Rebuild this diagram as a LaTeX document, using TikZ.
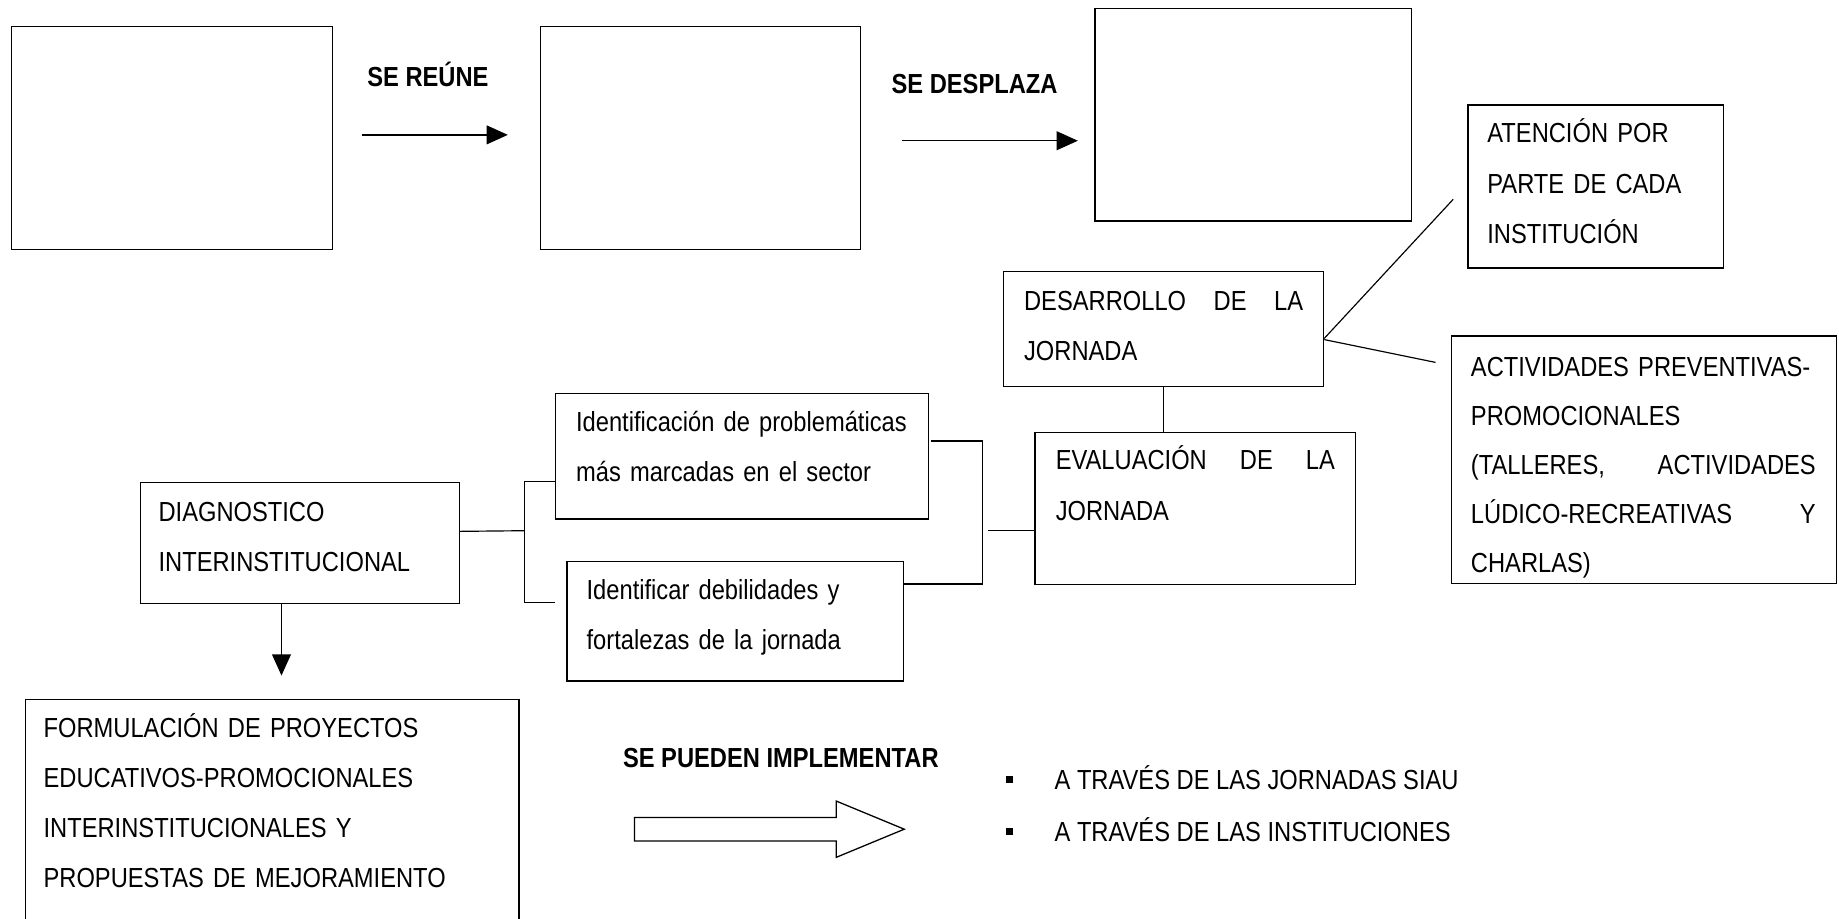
\documentclass[tikz,border=0pt]{standalone}
\usepackage{fontspec}
\setmainfont[FakeStretch=0.86]{Liberation Sans}
\usetikzlibrary{arrows.meta}
\newcommand{\fs}{\fontsize{23.5}{43}\selectfont}
\newcommand{\fr}{\rule{0pt}{30pt}}
\begin{document}
\begin{tikzpicture}[x=1pt,y=-1pt,
  box/.style={draw, line width=1.1pt, inner sep=0pt, anchor=north west},
  txt/.style={anchor=north west, inner sep=0pt, align=left, font=\fs},
  lbl/.style={anchor=base west, inner sep=0pt, font=\fs\bfseries},
  btxt/.style={anchor=base west, inner sep=0pt, font=\fs},
  conn/.style={line width=1pt},
  arr/.style={line width=1.1pt, -{Triangle[length=18pt,width=16pt]}}]
\clip (0,0) rectangle (1568,783);
\fill[white] (0,0) rectangle (1568,783);

% top row boxes
\node[box, minimum width=274pt, minimum height=190pt] (b1) at (9,22) {};
\node[box, minimum width=273pt, minimum height=190pt] (b2) at (460,22) {};
\node[box, minimum width=270pt, minimum height=181pt] (b3) at (933,7) {};

\node[lbl] (l1) at (313,74) {SE REÚNE};
\node[lbl] (l2) at (760,80) {SE DESPLAZA};
\coordinate (a1s) at (309,115);
\coordinate (a1e) at (433,115);
\coordinate (a2s) at (769,120);
\coordinate (a2e) at (919,120);
\draw[arr] (a1s) -- (a1e);
\draw[arr] (a2s) -- (a2e);

% right side
\node[box, minimum width=218pt, minimum height=139pt] (aten) at (1251,89) {};
\node[txt, text width=195pt] (taten) at (1268,91.5) {\fr ATENCIÓN POR\\PARTE DE CADA\\INSTITUCIÓN};

\node[box, minimum width=273pt, minimum height=98pt] (desa) at (855,231) {};
\node[txt, text width=238pt] (tdesa) at (873,234.5) {\fr DESARROLLO\hfill DE\hfill LA\\JORNADA};

\node[box, minimum width=328pt, minimum height=211pt] (acti) at (1237,286) {};
\node[txt, text width=294pt, font=\fontsize{23.5}{41.8}\selectfont] (tacti) at (1254,291) {\fr\mbox{ACTIVIDADES PREVENTIVAS-}\\PROMOCIONALES\\(TALLERES,\hfill ACTIVIDADES\\LÚDICO-RECREATIVAS\hfill Y\\CHARLAS)};

\node[box, minimum width=273pt, minimum height=130pt] (eval) at (882,368) {};
\node[txt, text width=238pt] (teval) at (900,370.5) {\fr EVALUACIÓN\hfill DE\hfill LA\\JORNADA};

\coordinate (atenend) at (1239,170);
\coordinate (actend) at (1224,309);
\draw[conn] ([yshift=-8pt]desa.east) -- (atenend);
\draw[conn] ([yshift=-9pt]desa.east) -- (actend);
\draw[conn] (desa.south) -- (desa.south |- eval.north);

% middle
\node[box, minimum width=318pt, minimum height=107pt] (iden1) at (473,335) {};
\node[txt, text width=295pt] (tiden1) at (491,337.5) {\fr Identificación de problemáticas\\más marcadas en el sector};

\node[box, minimum width=287pt, minimum height=102pt] (iden2) at (483,478) {};
\node[txt, text width=265pt] (tiden2) at (500,481) {\fr Identificar debilidades y\\fortalezas de la jornada};

\node[box, minimum width=272pt, minimum height=103pt] (diag) at (119,411) {};
\node[txt, text width=250pt] (tdiag) at (135,414.5) {\fr DIAGNOSTICO\\INTERINSTITUCIONAL};

% left bracket
\coordinate (lbt) at (447,410.5);
\coordinate (lbb) at (447,513.5);
\draw[conn] ([yshift=10pt]diag.east) -- (lbt |- 0,452.5);
\draw[conn] (iden1.west |- lbt) -- (lbt) -- (lbb) -- (iden1.west |- lbb);

% right bracket
\coordinate (rbt) at (838,376);
\coordinate (rbb) at (838,498);
\coordinate (mid) at (842,452.5);
\draw[conn] ([xshift=2pt]iden1.east |- rbt) -- (rbt) -- (rbb) -- (iden2.east |- rbb);
\draw[conn] (mid) -- (eval.west |- mid);

% down arrow
\coordinate (dend) at (240,576);
\draw[arr] (diag.south -| dend) -- (dend);

% bottom
\node[box, minimum width=421pt, minimum height=220pt] (form) at (21,596) {};
\node[txt, text width=400pt, font=\fontsize{23.5}{42.7}\selectfont] (tform) at (37,598.5) {\fr FORMULACIÓN DE PROYECTOS\\EDUCATIVOS-PROMOCIONALES\\INTERINSTITUCIONALES Y\\PROPUESTAS DE MEJORAMIENTO};

\node[lbl] (l3) at (531,654) {SE PUEDEN IMPLEMENTAR};
\draw[line width=1.1pt] (541,697) -- (713,697) -- (713,683) -- (771,707) -- (713,731) -- (713,717) -- (541,717) -- cycle;

\node[fill, minimum size=6pt, inner sep=0pt] (bu1) at (861,665) {};
\node[fill, minimum size=6pt, inner sep=0pt] (bu2) at (861,709) {};
\node[btxt] (tb1) at (899,673.5) {A TRAVÉS DE LAS JORNADAS SIAU};
\node[btxt] (tb2) at (899,717.5) {A TRAVÉS DE LAS INSTITUCIONES};
\end{tikzpicture}
\end{document}
